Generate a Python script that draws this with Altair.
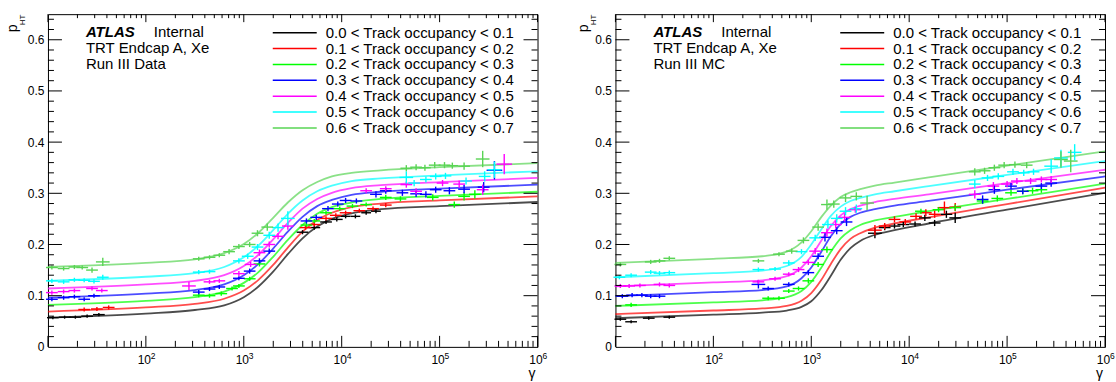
import altair as alt
import pandas as pd

FONT = "Liberation Sans"
LABELS = [
    "0.0 < Track occupancy < 0.1",
    "0.1 < Track occupancy < 0.2",
    "0.2 < Track occupancy < 0.3",
    "0.3 < Track occupancy < 0.4",
    "0.4 < Track occupancy < 0.5",
    "0.5 < Track occupancy < 0.6",
    "0.6 < Track occupancy < 0.7",
]
COLORS = ["#000000", "#ff0000", "#00ff00", "#0000ff", "#ff00ff", "#00ffff", "#59d454"]

# ---- fitted curves (x = log10 gamma) ----
GRID_DATA = [1.0, 2.0, 2.5, 2.8, 3.0, 3.15, 3.3, 3.45, 3.6, 3.75, 3.9, 4.1, 4.4, 5.0, 6.0]
FIT_DATA_0 = [0.057, 0.065, 0.072, 0.081, 0.097, 0.118, 0.147, 0.181, 0.212, 0.235, 0.250, 0.261, 0.269, 0.275, 0.283]
FIT_DATA_1 = [0.069, 0.077, 0.084, 0.094, 0.110, 0.131, 0.160, 0.194, 0.225, 0.248, 0.262, 0.273, 0.280, 0.286, 0.294]
FIT_DATA_2 = [0.082, 0.090, 0.097, 0.108, 0.125, 0.146, 0.176, 0.209, 0.238, 0.260, 0.273, 0.282, 0.289, 0.295, 0.303]
FIT_DATA_3 = [0.096, 0.104, 0.111, 0.122, 0.140, 0.162, 0.192, 0.225, 0.254, 0.275, 0.287, 0.297, 0.303, 0.309, 0.317]
FIT_DATA_4 = [0.114, 0.122, 0.129, 0.140, 0.158, 0.180, 0.210, 0.242, 0.270, 0.289, 0.301, 0.310, 0.316, 0.322, 0.330]
FIT_DATA_5 = [0.129, 0.137, 0.144, 0.156, 0.175, 0.198, 0.228, 0.260, 0.286, 0.304, 0.315, 0.324, 0.329, 0.335, 0.343]
FIT_DATA_6 = [0.156, 0.164, 0.171, 0.183, 0.201, 0.223, 0.252, 0.282, 0.306, 0.322, 0.333, 0.340, 0.345, 0.351, 0.359]

GRID_MC = [1.0, 2.0, 2.5, 2.75, 2.9, 3.0, 3.1, 3.2, 3.3, 3.4, 3.5, 3.65, 3.85, 4.2, 5.0, 6.0]
FIT_MC_0 = [0.056, 0.063, 0.067, 0.071, 0.078, 0.089, 0.110, 0.139, 0.170, 0.193, 0.207, 0.219, 0.228, 0.241, 0.268, 0.301]
FIT_MC_1 = [0.064, 0.071, 0.075, 0.080, 0.090, 0.105, 0.130, 0.162, 0.191, 0.211, 0.222, 0.233, 0.241, 0.253, 0.279, 0.311]
FIT_MC_2 = [0.080, 0.087, 0.091, 0.097, 0.109, 0.127, 0.154, 0.186, 0.212, 0.228, 0.238, 0.247, 0.254, 0.265, 0.289, 0.319]
FIT_MC_3 = [0.099, 0.107, 0.111, 0.118, 0.134, 0.155, 0.185, 0.216, 0.240, 0.254, 0.262, 0.269, 0.276, 0.285, 0.307, 0.333]
FIT_MC_4 = [0.118, 0.126, 0.130, 0.138, 0.155, 0.177, 0.207, 0.236, 0.257, 0.269, 0.276, 0.283, 0.289, 0.298, 0.320, 0.346]
FIT_MC_5 = [0.136, 0.144, 0.149, 0.158, 0.176, 0.200, 0.229, 0.256, 0.274, 0.285, 0.291, 0.298, 0.304, 0.314, 0.336, 0.363]
FIT_MC_6 = [0.164, 0.172, 0.177, 0.186, 0.204, 0.226, 0.253, 0.276, 0.293, 0.302, 0.308, 0.315, 0.321, 0.331, 0.354, 0.382]

# ---- measured points: (log10 gamma, pHT, x half-error in log10, y half-error) ----
PTS_DATA_0 = [(1.05, 0.057, .06, .003), (1.17, 0.058, .06, .003), (1.28, 0.058, .06, .003), (1.40, 0.060, .06, .003),
              (1.52, 0.063, .06, .003), (3.60, 0.224, .06, .004), (3.72, 0.233, .06, .004), (3.84, 0.244, .06, .004),
              (3.95, 0.249, .06, .004), (4.04, 0.255, .05, .004), (4.14, 0.255, .05, .004), (4.25, 0.262, .05, .004),
              (4.35, 0.265, .05, .004)]
PTS_DATA_1 = [(1.37, 0.073, .06, .004), (1.50, 0.074, .06, .004), (1.62, 0.077, .06, .004), (3.63, 0.233, .06, .004),
              (3.72, 0.239, .06, .004), (3.84, 0.251, .06, .004), (3.94, 0.257, .06, .004), (4.04, 0.262, .06, .004),
              (4.18, 0.266, .06, .004), (4.32, 0.270, .06, .004), (4.45, 0.277, .06, .004)]
PTS_DATA_2 = [(2.54, 0.101, .06, .004), (2.65, 0.100, .06, .004), (2.77, 0.104, .06, .004), (2.88, 0.114, .06, .004),
              (2.95, 0.119, .06, .004), (3.06, 0.133, .06, .004), (3.16, 0.162, .06, .005), (3.64, 0.238, .06, .004),
              (3.72, 0.246, .06, .004), (3.84, 0.262, .06, .004), (3.98, 0.270, .06, .004), (4.11, 0.275, .06, .004),
              (4.25, 0.278, .06, .004), (4.45, 0.292, .06, .005), (4.60, 0.289, .06, .005), (4.93, 0.292, .06, .006),
              (5.15, 0.278, .06, .006), (5.25, 0.294, .06, .008), (5.36, 0.298, .06, .008)]
PTS_DATA_3 = [(1.04, 0.093, .06, .004), (1.16, 0.096, .06, .004), (1.27, 0.098, .06, .004), (1.37, 0.093, .06, .004),
              (1.47, 0.100, .06, .004), (2.54, 0.107, .06, .004), (2.65, 0.113, .06, .004), (2.75, 0.117, .06, .004),
              (2.95, 0.134, .06, .004), (3.06, 0.148, .06, .005), (3.16, 0.168, .06, .005), (3.26, 0.187, .06, .005),
              (3.64, 0.246, .06, .005), (3.74, 0.253, .06, .005), (3.86, 0.270, .06, .005), (3.96, 0.279, .06, .005),
              (4.04, 0.286, .06, .005), (4.15, 0.285, .06, .005), (4.35, 0.298, .06, .006), (4.45, 0.305, .06, .006),
              (4.62, 0.301, .06, .006), (4.76, 0.299, .06, .006), (4.86, 0.298, .06, .006), (4.96, 0.307, .06, .006),
              (5.10, 0.305, .06, .007), (5.25, 0.308, .06, .008), (5.45, 0.312, .06, .010), (5.56, 0.345, .08, .018)]
PTS_DATA_4 = [(1.04, 0.106, .06, .004), (1.16, 0.108, .06, .004), (1.27, 0.110, .06, .004), (1.45, 0.114, .06, .004),
              (1.55, 0.110, .06, .004), (2.44, 0.119, .07, .008), (2.65, 0.127, .06, .004), (2.75, 0.129, .06, .004),
              (2.95, 0.143, .06, .005), (3.07, 0.161, .06, .005), (3.16, 0.184, .06, .006), (3.26, 0.200, .06, .006),
              (3.35, 0.216, .06, .006), (3.45, 0.236, .06, .007), (4.25, 0.305, .06, .005), (4.45, 0.309, .06, .005),
              (4.66, 0.317, .06, .006), (4.76, 0.304, .06, .006), (5.03, 0.320, .06, .006), (5.20, 0.318, .06, .007),
              (5.44, 0.307, .06, .010), (5.66, 0.357, .08, .020)]
PTS_DATA_5 = [(1.04, 0.129, .06, .004), (1.16, 0.127, .06, .004), (1.27, 0.131, .06, .004), (1.37, 0.130, .06, .004),
              (1.47, 0.128, .06, .004), (1.56, 0.136, .06, .005), (2.54, 0.146, .06, .004), (2.65, 0.147, .06, .004),
              (2.95, 0.168, .06, .005), (3.04, 0.177, .06, .005), (3.14, 0.195, .06, .006), (3.26, 0.218, .06, .007),
              (3.35, 0.233, .06, .008), (3.45, 0.251, .07, .014), (4.66, 0.331, .07, .012), (4.74, 0.320, .06, .006),
              (4.86, 0.327, .06, .006), (4.96, 0.333, .06, .006), (5.06, 0.334, .06, .006), (5.27, 0.324, .06, .007),
              (5.46, 0.333, .06, .010), (5.56, 0.346, .07, .016)]
PTS_DATA_6 = [(1.04, 0.155, .06, .004), (1.16, 0.153, .06, .004), (1.27, 0.156, .06, .004), (1.35, 0.155, .06, .004),
              (1.45, 0.150, .06, .005), (1.56, 0.166, .07, .008), (2.54, 0.172, .06, .004), (2.65, 0.175, .06, .004),
              (2.75, 0.179, .06, .004), (2.85, 0.186, .06, .005), (2.95, 0.196, .06, .005), (3.06, 0.200, .06, .005),
              (3.14, 0.222, .06, .006), (3.24, 0.234, .06, .007), (4.66, 0.349, .06, .006), (4.76, 0.351, .06, .006),
              (4.85, 0.350, .06, .006), (4.95, 0.355, .06, .006), (5.05, 0.355, .06, .006), (5.13, 0.354, .06, .006),
              (5.25, 0.353, .06, .007), (5.44, 0.367, .07, .016)]

PTS_MC_0 = [(1.05, 0.054, .06, .003), (1.16, 0.049, .06, .003), (1.34, 0.056, .06, .003), (1.55, 0.058, .06, .003),
            (3.65, 0.222, .07, .010), (3.75, 0.233, .06, .005), (3.85, 0.236, .06, .005), (3.94, 0.239, .06, .005),
            (4.06, 0.240, .06, .005), (4.16, 0.252, .06, .006), (4.26, 0.242, .06, .006), (4.38, 0.259, .06, .007),
            (4.47, 0.252, .06, .010)]
PTS_MC_1 = [(3.65, 0.228, .07, .010), (3.75, 0.236, .06, .006), (3.85, 0.249, .06, .006), (3.96, 0.244, .06, .006),
            (4.07, 0.255, .06, .006), (4.17, 0.262, .06, .007), (4.26, 0.259, .06, .007), (4.36, 0.272, .07, .012),
            (4.47, 0.273, .06, .008)]
PTS_MC_2 = [(1.16, 0.082, .06, .004), (2.56, 0.095, .06, .004), (2.67, 0.095, .06, .004), (2.77, 0.109, .06, .004),
            (2.87, 0.114, .06, .004), (2.97, 0.129, .06, .005), (3.07, 0.161, .06, .005), (3.16, 0.190, .06, .006),
            (4.12, 0.265, .06, .005), (4.30, 0.268, .06, .005), (4.47, 0.272, .06, .006), (4.75, 0.285, .06, .006),
            (4.90, 0.290, .06, .006), (5.04, 0.301, .06, .006), (5.16, 0.304, .06, .006), (5.26, 0.305, .06, .006),
            (5.35, 0.307, .06, .006)]
PTS_MC_3 = [(1.07, 0.099, .06, .004), (1.17, 0.101, .06, .004), (1.27, 0.101, .06, .004), (1.36, 0.099, .06, .004),
            (1.45, 0.099, .06, .004), (2.46, 0.122, .07, .008), (2.56, 0.114, .06, .004), (2.77, 0.122, .06, .004),
            (2.97, 0.145, .06, .005), (3.07, 0.177, .06, .006), (3.14, 0.214, .06, .008), (3.26, 0.227, .06, .007),
            (3.36, 0.244, .06, .008), (4.75, 0.288, .06, .008), (4.87, 0.307, .06, .008), (5.04, 0.314, .06, .006),
            (5.16, 0.304, .06, .006), (5.35, 0.314, .06, .006), (5.45, 0.320, .06, .007)]
PTS_MC_4 = [(1.05, 0.119, .06, .004), (1.14, 0.119, .06, .004), (1.25, 0.120, .06, .004), (1.45, 0.122, .06, .004),
            (1.55, 0.120, .06, .004), (2.46, 0.127, .06, .004), (2.63, 0.133, .06, .004), (2.77, 0.142, .06, .004),
            (2.87, 0.151, .06, .005), (2.97, 0.165, .06, .005), (3.04, 0.187, .06, .006), (3.16, 0.223, .06, .008),
            (3.25, 0.239, .06, .008), (3.34, 0.253, .06, .008), (3.45, 0.268, .06, .006), (4.67, 0.298, .06, .008),
            (4.86, 0.314, .06, .008), (5.00, 0.318, .06, .006), (5.10, 0.324, .06, .006), (5.24, 0.324, .06, .006),
            (5.35, 0.327, .06, .006), (5.45, 0.327, .06, .007)]
PTS_MC_5 = [(1.04, 0.136, .06, .004), (1.16, 0.140, .06, .004), (1.36, 0.146, .06, .004), (1.45, 0.144, .06, .004),
            (1.55, 0.145, .06, .004), (2.46, 0.151, .06, .004), (2.63, 0.152, .06, .004), (2.77, 0.164, .06, .005),
            (2.90, 0.186, .06, .005), (3.04, 0.213, .06, .006), (3.17, 0.239, .06, .008), (3.26, 0.251, .06, .008),
            (3.35, 0.265, .06, .008), (3.46, 0.270, .06, .008), (4.67, 0.318, .06, .008), (4.80, 0.330, .06, .006),
            (4.91, 0.333, .06, .006), (5.06, 0.342, .06, .006), (5.17, 0.340, .06, .006), (5.27, 0.342, .06, .006),
            (5.45, 0.353, .07, .014), (5.55, 0.369, .07, .016), (5.69, 0.380, .07, .016)]
PTS_MC_6 = [(1.05, 0.161, .06, .004), (1.36, 0.166, .06, .004), (1.45, 0.168, .06, .004), (1.55, 0.173, .06, .004),
            (2.46, 0.168, .06, .004), (2.67, 0.181, .06, .004), (2.80, 0.187, .06, .005), (2.92, 0.208, .06, .006),
            (3.07, 0.234, .06, .007), (3.16, 0.278, .06, .010), (3.23, 0.279, .06, .007), (3.35, 0.291, .06, .008),
            (3.46, 0.294, .06, .008), (3.57, 0.281, .07, .014), (4.67, 0.342, .06, .007), (4.77, 0.344, .06, .006),
            (4.87, 0.350, .06, .006), (4.97, 0.355, .06, .006), (5.08, 0.356, .06, .006), (5.20, 0.355, .06, .006),
            (5.55, 0.366, .07, .016), (5.65, 0.363, .07, .022)]

X_LABEL_EXPONENTS = [2, 3, 4, 5, 6]
Y_LABELS = [0.0, 0.1, 0.2, 0.3, 0.4, 0.5, 0.6]

W, H = 490, 333
XS = alt.Scale(type="log", domain=[10, 1e6], nice=False)
YS = alt.Scale(domain=[0, 0.65], nice=False, zero=False)
CS = alt.Scale(domain=LABELS, range=COLORS)
ONE = pd.DataFrame({"k": [0]})

X_MAJOR = [10.0 ** e for e in range(1, 7)]
X_MINOR = [k * 10.0 ** e for e in range(1, 6) for k in range(2, 10)]
Y_MAJOR = Y_LABELS[1:]
Y_MINOR = [round(i * 0.02, 2) for i in range(1, 33) if i % 5]

YAXIS = alt.Axis(values=Y_LABELS, labelExpr="datum.value == 0 ? '0' : format(datum.value, '.1f')",
                 ticks=False, domain=False, grid=False, labelFontSize=12, labelFont=FONT,
                 labelColor="black", labelPadding=4, title=None)


def ticks():
    layers = []
    xmaj = pd.DataFrame({"g": X_MAJOR})
    xmin = pd.DataFrame({"g": X_MINOR})
    ymaj = pd.DataFrame({"p": Y_MAJOR})
    ymin = pd.DataFrame({"p": Y_MINOR})
    for df, ln_b, ln_t in ((xmaj, 11, 8), (xmin, 6, 4)):
        base = alt.Chart(df).mark_rule(color="black", strokeWidth=1)
        layers.append(base.encode(x=alt.X("g:Q", scale=XS, axis=None), y=alt.value(H), y2=alt.value(H - ln_b)))
        layers.append(base.encode(x=alt.X("g:Q", scale=XS, axis=None), y=alt.value(0), y2=alt.value(ln_t)))
    for df, ln in ((ymaj, 14), (ymin, 6)):
        base = alt.Chart(df).mark_rule(color="black", strokeWidth=1)
        layers.append(base.encode(y=alt.Y("p:Q", scale=YS, axis=YAXIS), x=alt.value(0), x2=alt.value(ln)))
        layers.append(base.encode(y=alt.Y("p:Q", scale=YS, axis=YAXIS), x=alt.value(W), x2=alt.value(W - ln)))
    return layers


def panel(grid, fits, points, run_label, ytitle_dx):
    crow = []
    for i, fit in enumerate(fits):
        for l, p in zip(grid, fit):
            crow.append({"g": 10.0 ** l, "p": p, "s": LABELS[i]})
    prow = []
    for i, pts in enumerate(points):
        for l, p, ex, ey in pts:
            prow.append({"g": 10.0 ** l, "g1": 10.0 ** (l - ex), "g2": 10.0 ** (l + ex),
                         "p": p, "p1": p - ey, "p2": p + ey, "s": LABELS[i]})
    cdf = pd.DataFrame(crow)
    pdf = pd.DataFrame(prow)

    curves = alt.Chart(cdf).mark_line(interpolate="monotone", strokeWidth=1.8, opacity=0.7).encode(
        x=alt.X("g:Q", scale=XS, axis=None),
        y=alt.Y("p:Q", scale=YS, axis=YAXIS),
        color=alt.Color("s:N", scale=CS, legend=None),
        detail="s:N",
    )
    hbar = alt.Chart(pdf).mark_rule(strokeWidth=1.4).encode(
        x=alt.X("g1:Q", scale=XS, axis=None), x2="g2:Q",
        y=alt.Y("p:Q", scale=YS, axis=YAXIS), color=alt.Color("s:N", scale=CS, legend=None))
    vbar = alt.Chart(pdf).mark_rule(strokeWidth=1.4).encode(
        x=alt.X("g:Q", scale=XS, axis=None),
        y=alt.Y("p1:Q", scale=YS, axis=YAXIS), y2="p2:Q", color=alt.Color("s:N", scale=CS, legend=None))

    ldf = pd.DataFrame({"g": [10.0 ** e for e in X_LABEL_EXPONENTS],
                        "base": ["10"] * len(X_LABEL_EXPONENTS),
                        "sup": [str(e) for e in X_LABEL_EXPONENTS]})
    xl1 = alt.Chart(ldf).mark_text(font=FONT, fontSize=12, align="center", baseline="alphabetic", dx=-1.5,
                                   color="black").encode(
        x=alt.X("g:Q", scale=XS, axis=None), y=alt.value(H + 17), text="base:N")
    xl2 = alt.Chart(ldf).mark_text(font=FONT, fontSize=8.5, align="left", baseline="alphabetic", dx=5,
                                   color="black").encode(
        x=alt.X("g:Q", scale=XS, axis=None), y=alt.value(H + 12), text="sup:N")

    def txt(s, x, y, size=15, **kw):
        return alt.Chart(ONE).mark_text(text=s, font=FONT, fontSize=size, align="left",
                                        baseline="alphabetic", color="black", **kw).encode(
            x=alt.value(x), y=alt.value(y))

    ann = [
        txt("ATLAS", 38, 23, fontStyle="italic", fontWeight="bold"),
        txt("Internal", 106, 23),
        txt("TRT Endcap A, Xe", 38, 39),
        txt(run_label, 38, 55),
        txt("γ", W - 9, H + 31, size=14),
        txt("p", ytitle_dx, 18, size=14, angle=270),
        txt("HT", ytitle_dx + 8, 11, size=8, angle=270),
    ]
    leg = []
    for i, (lab, col) in enumerate(zip(LABELS, COLORS)):
        yy = 18.5 + 15.9 * i
        leg.append(alt.Chart(ONE).mark_rule(color=col, strokeWidth=1.5).encode(
            x=alt.value(225), x2=alt.value(269), y=alt.value(yy)))
        leg.append(txt(lab, 278, yy + 5))

    return alt.layer(curves, hbar, vbar, *ticks(), xl1, xl2, *ann, *leg).properties(width=W, height=H)


left = panel(GRID_DATA, [FIT_DATA_0, FIT_DATA_1, FIT_DATA_2, FIT_DATA_3, FIT_DATA_4, FIT_DATA_5, FIT_DATA_6],
             [PTS_DATA_0, PTS_DATA_1, PTS_DATA_2, PTS_DATA_3, PTS_DATA_4, PTS_DATA_5, PTS_DATA_6],
             "Run III Data", -31)
right = panel(GRID_MC, [FIT_MC_0, FIT_MC_1, FIT_MC_2, FIT_MC_3, FIT_MC_4, FIT_MC_5, FIT_MC_6],
              [PTS_MC_0, PTS_MC_1, PTS_MC_2, PTS_MC_3, PTS_MC_4, PTS_MC_5, PTS_MC_6],
              "Run III MC", -27)

chart = alt.hconcat(left, right, spacing=28).properties(
    padding={"left": 5, "top": 13, "right": 0, "bottom": 0},
    background="white",
).configure_view(stroke="black", strokeWidth=1)

chart.save("out.html", embed_options={"renderer": "svg", "actions": False})
